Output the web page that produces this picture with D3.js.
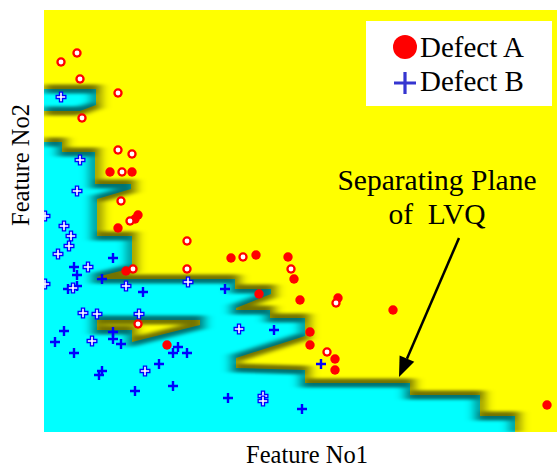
<!DOCTYPE html>
<html>
<head>
<meta charset="utf-8">
<script src="https://cdn.jsdelivr.net/npm/d3@7/dist/d3.min.js"></script>
<style>
  html, body { margin: 0; padding: 0; background: #fff; }
  svg { display: block; }
</style>
</head>
<body>
<svg id="chart" width="560" height="470"></svg>
<script>
// ---- Feature space extents ----
const featureNo1Range = [0, 513];
const featureNo2Range = [0, 422];

// ---- LVQ decision regions (Defect B region is cyan, everything else is Defect A) ----
const regionB_upper = [[0,343],[52,343],[52,327],[36,321],[0,321]];
const regionB_main = [
  [0,290],[18,290],[18,280],[51,280],[51,248],[87,248],[87,243],[53,233],
  [53,196],[88,196],[88,164],[53,155],[53,153],[191,153],[191,143],[227,143],
  [227,138],[192,124],[192,122],[226,122],[226,114],[261,114],[261,96],[192,74],
  [192,64],[261,62],[261,49],[366,49],[366,37],[436,37],[436,16],[471,16],
  [471,0],[0,0]
];
// pocket of Defect A region inside the Defect B region
const regionA_pocket = [[53,112],[156,112],[156,107],[88,90],[88,102],[53,102]];

// ---- Samples ----
const defectA_solid = [
  [66,260],[88,260],[94,217],[91,213],[74,204],[187,174],[82,161],[212,177],
  [244,175],[250,153],[215,138],[256,132],[294,134],[349,122],[266,100],[266,87],
  [291,73],[291,62],[503,27],[123,87]
];
const defectA_ringed = [
  [33,379],[17,370],[36,353],[74,339],[38,314],[74,282],[88,278],[78,260],
  [77,231],[86,211],[143,191],[143,163],[89,163],[199,175],[247,163],[292,129],
  [283,80],[94,108]
];
const defectB_plain = [
  [69,174],[30,165],[33,157],[58,153],[24,143],[33,146],[99,140],[181,143],
  [20,101],[69,100],[69,93],[11,90],[77,88],[30,79],[134,85],[129,79],
  [143,79],[115,68],[58,61],[55,57],[129,46],[91,41],[184,34],[230,102],
  [277,68],[258,23]
];
const defectB_ringed = [
  [17,335],[36,272],[33,241],[1,216],[20,206],[27,196],[25,186],[14,178],
  [44,165],[1,148],[29,144],[82,146],[144,150],[39,119],[53,118],[95,118],
  [48,91],[101,61],[195,103],[219,36],[219,31]
];

// ---- Labels ----
const legendLabels = ["Defect A", "Defect B"];
const xTitle = "Feature No1";
const yTitle = "Feature No2";
const noteLines = ["Separating Plane", "of  LVQ"];

// ---- Colours ----
const colA = "#ffff00", colB = "#00ffff";
const red = "#ff0000", blue = "#0000ff";
const font = "'Liberation Serif', 'Times New Roman', serif";

const svg = d3.select("#chart");
const plot = { left: 44, right: 557, top: 10, bottom: 432 };

const x = d3.scaleLinear().domain(featureNo1Range).range([plot.left, plot.right]);
const y = d3.scaleLinear().domain(featureNo2Range).range([plot.bottom, plot.top]);
const line = d3.line().x(d => x(d[0])).y(d => y(d[1]));

const defs = svg.append("defs");
defs.append("clipPath").attr("id", "plotClip")
  .append("rect")
  .attr("x", plot.left).attr("y", plot.top)
  .attr("width", plot.right - plot.left).attr("height", plot.bottom - plot.top);
defs.append("filter").attr("id", "edgeBlur")
  .attr("filterUnits", "userSpaceOnUse")
  .attr("x", 0).attr("y", 0).attr("width", 560).attr("height", 470)
  .append("feGaussianBlur").attr("stdDeviation", "5.5 1.5");

const g = svg.append("g").attr("clip-path", "url(#plotClip)");

// background: Defect A region
g.append("rect")
  .attr("x", plot.left).attr("y", plot.top)
  .attr("width", plot.right - plot.left).attr("height", plot.bottom - plot.top)
  .attr("fill", colA);

// Defect B regions
[regionB_upper, regionB_main].forEach(poly => {
  g.append("path").attr("d", line(poly) + "Z").attr("fill", colB);
});
g.append("path").attr("d", line(regionA_pocket) + "Z").attr("fill", colA);

// soft dark band along the separating boundary
const edges = [
  line(regionB_upper),
  line(regionB_main.slice(0, regionB_main.length - 1)),
  line(regionA_pocket) + "Z"
];
g.append("g").attr("filter", "url(#edgeBlur)")
  .selectAll("path").data(edges).join("path")
  .attr("d", d => d)
  .attr("fill", "none")
  .attr("stroke", "#000")
  .attr("stroke-opacity", 0.55)
  .attr("stroke-width", 9)
  .attr("stroke-linejoin", "miter");

// ---- markers ----
function plus(sel, size, width, color) {
  sel.append("path")
    .attr("d", `M${-size},0H${size}M0,${-size}V${size}`)
    .attr("stroke", color).attr("stroke-width", width).attr("fill", "none");
}
const markers = g.append("g");

markers.selectAll("g.bp").data(defectB_plain).join("g").attr("class", "bp")
  .attr("transform", d => `translate(${x(d[0])},${y(d[1])})`)
  .each(function () { plus(d3.select(this), 5, 2.4, blue); });

markers.selectAll("g.br").data(defectB_ringed).join("g").attr("class", "br")
  .attr("transform", d => `translate(${x(d[0])},${y(d[1])})`)
  .each(function () {
    plus(d3.select(this), 5.5, 4.4, blue);
    plus(d3.select(this), 4.2, 1.6, "#fff");
  });

markers.selectAll("circle.as").data(defectA_solid).join("circle").attr("class", "as")
  .attr("cx", d => x(d[0])).attr("cy", d => y(d[1])).attr("r", 4.7)
  .attr("fill", red);

const ringed = markers.selectAll("g.ar").data(defectA_ringed).join("g").attr("class", "ar")
  .attr("transform", d => `translate(${x(d[0])},${y(d[1])})`);
ringed.append("circle").attr("r", 4.7).attr("fill", red);
ringed.append("circle").attr("r", 2.4).attr("fill", "#fff");

// ---- legend ----
const lg = svg.append("g");
lg.append("rect").attr("x", 366).attr("y", 21).attr("width", 186).attr("height", 85)
  .attr("fill", "#fff");
lg.append("circle").attr("cx", 405).attr("cy", 47).attr("r", 12).attr("fill", red);
lg.append("path").attr("d", "M394,83H416M405,72V94")
  .attr("stroke", "#3535d0").attr("stroke-width", 3.2);
lg.selectAll("text").data(legendLabels).join("text")
  .attr("x", 420).attr("y", (d, i) => 57 + i * 34)
  .attr("font-family", font).attr("font-size", 29).attr("fill", "#000")
  .text(d => d);

// ---- annotation ----
svg.append("g").selectAll("text").data(noteLines).join("text")
  .attr("x", 437).attr("y", (d, i) => 190 + i * 34)
  .attr("text-anchor", "middle")
  .attr("font-family", font).attr("font-size", 29.5).attr("fill", "#000")
  .attr("xml:space", "preserve").style("white-space", "pre")
  .text(d => d);

const a0 = [459, 238], a1 = [399, 377];
const ang = Math.atan2(a1[1] - a0[1], a1[0] - a0[0]);
const headLen = 20, headHalf = 8;
const bx = a1[0] - headLen * Math.cos(ang), by = a1[1] - headLen * Math.sin(ang);
svg.append("line")
  .attr("x1", a0[0]).attr("y1", a0[1]).attr("x2", bx).attr("y2", by)
  .attr("stroke", "#000").attr("stroke-width", 2.5);
svg.append("path")
  .attr("d", `M${a1[0]},${a1[1]}L${bx + headHalf * Math.sin(ang)},${by - headHalf * Math.cos(ang)}L${bx - headHalf * Math.sin(ang)},${by + headHalf * Math.cos(ang)}Z`)
  .attr("fill", "#000");

// ---- axis titles ----
svg.append("text")
  .attr("x", 307).attr("y", 463).attr("text-anchor", "middle")
  .attr("font-family", font).attr("font-size", 24.5).attr("fill", "#000")
  .text(xTitle);
svg.append("text")
  .attr("transform", "translate(29,165) rotate(-90)")
  .attr("text-anchor", "middle")
  .attr("font-family", font).attr("font-size", 24.5).attr("fill", "#000")
  .text(yTitle);
</script>
</body>
</html>
